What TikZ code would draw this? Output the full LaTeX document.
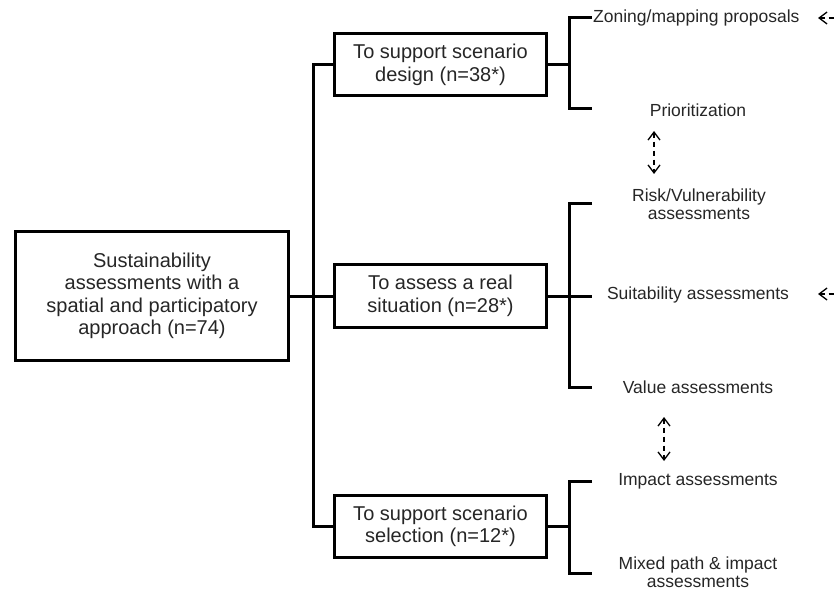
\documentclass[tikz,border=0pt]{standalone}
\usepackage{fontspec}
\setmainfont{Liberation Sans}
\usetikzlibrary{arrows.meta}
\begin{document}
\begin{tikzpicture}[x=1pt,y=-1pt,
 box/.style={draw,line width=3pt,align=center,font=\fontsize{20}{22.5}\selectfont,inner sep=0pt,text=black!85},
 lbl/.style={align=center,font=\fontsize{17.5}{18.5}\selectfont,inner sep=0pt,text=black!85},
 conn/.style={line width=3pt,line join=miter},
 barb/.tip={Straight Barb[length=8pt,width=12pt,line width=1.3pt]},
 dasharr/.style={line width=1.4pt,dash pattern=on 5pt off 4pt},
]
\useasboundingbox (0,0) rectangle (836,591);
\node[box,minimum width=273pt,minimum height=129pt] (main) at (152,296) {Sustainability\\assessments with a\\spatial and participatory\\approach (n=74)};
\node[box,minimum width=212pt,minimum height=62pt] (b1) at (440.5,65) {To support scenario\\design (n=38*)};
\node[box,minimum width=212pt,minimum height=63pt] (b2) at (440.5,296) {To assess a real\\situation (n=28*)};
\node[box,minimum width=212pt,minimum height=62pt] (b3) at (440.5,526.5) {To support scenario\\selection (n=12*)};

\coordinate (trunk) at (313,296);
\draw[conn] (main.east) -- (b2.west);
\draw[conn] (b1.west) -| (trunk) |- (b3.west);

\coordinate (k1) at (569,65);
\coordinate (z1) at (592,18);
\coordinate (p1) at (592,109);
\coordinate (k2) at (569,296);
\coordinate (r1) at (592,204);
\coordinate (v1) at (592,387);
\coordinate (k3) at (569,526.5);
\coordinate (i1) at (592,481);
\coordinate (m1) at (592,573);
\draw[conn] (b1.east) -- (k1);
\draw[conn] (z1) -| (k1) |- (p1);
\draw[conn] (b2.east) -- (k2) -- (592,296);
\draw[conn] (r1) -| (k2) |- (v1);
\draw[conn] (b3.east) -- (k3);
\draw[conn] (i1) -| (k3) |- (m1);

\node[lbl,anchor=west] (zoning) at (593,18) {Zoning/mapping proposals};
\node[lbl] (prio) at (698,110) {Prioritization};
\node[lbl] (risk) at (699,204) {Risk/Vulnerability\\assessments};
\node[lbl] (suit) at (698,295) {Suitability assessments};
\node[lbl] (value) at (698,387) {Value assessments};
\node[lbl] (impact) at (698,481) {Impact assessments};
\node[lbl] (mixed) at (698,572) {Mixed path \& impact\\assessments};

\coordinate (d1a) at (654,131);
\coordinate (d1b) at (654,174);
\coordinate (d2a) at (664,417);
\coordinate (d2b) at (664,461);
\draw[dasharr,barb-barb] (d1a) -- (d1b);
\draw[dasharr,barb-barb] (d2a) -- (d2b);

\coordinate (e1a) at (818,18);
\coordinate (e1b) at (845,18);
\coordinate (e2a) at (818,294);
\coordinate (e2b) at (845,294);
\draw[dasharr,barb-] (e1a) -- (e1b);
\draw[dasharr,barb-] (e2a) -- (e2b);
\end{tikzpicture}
\end{document}
